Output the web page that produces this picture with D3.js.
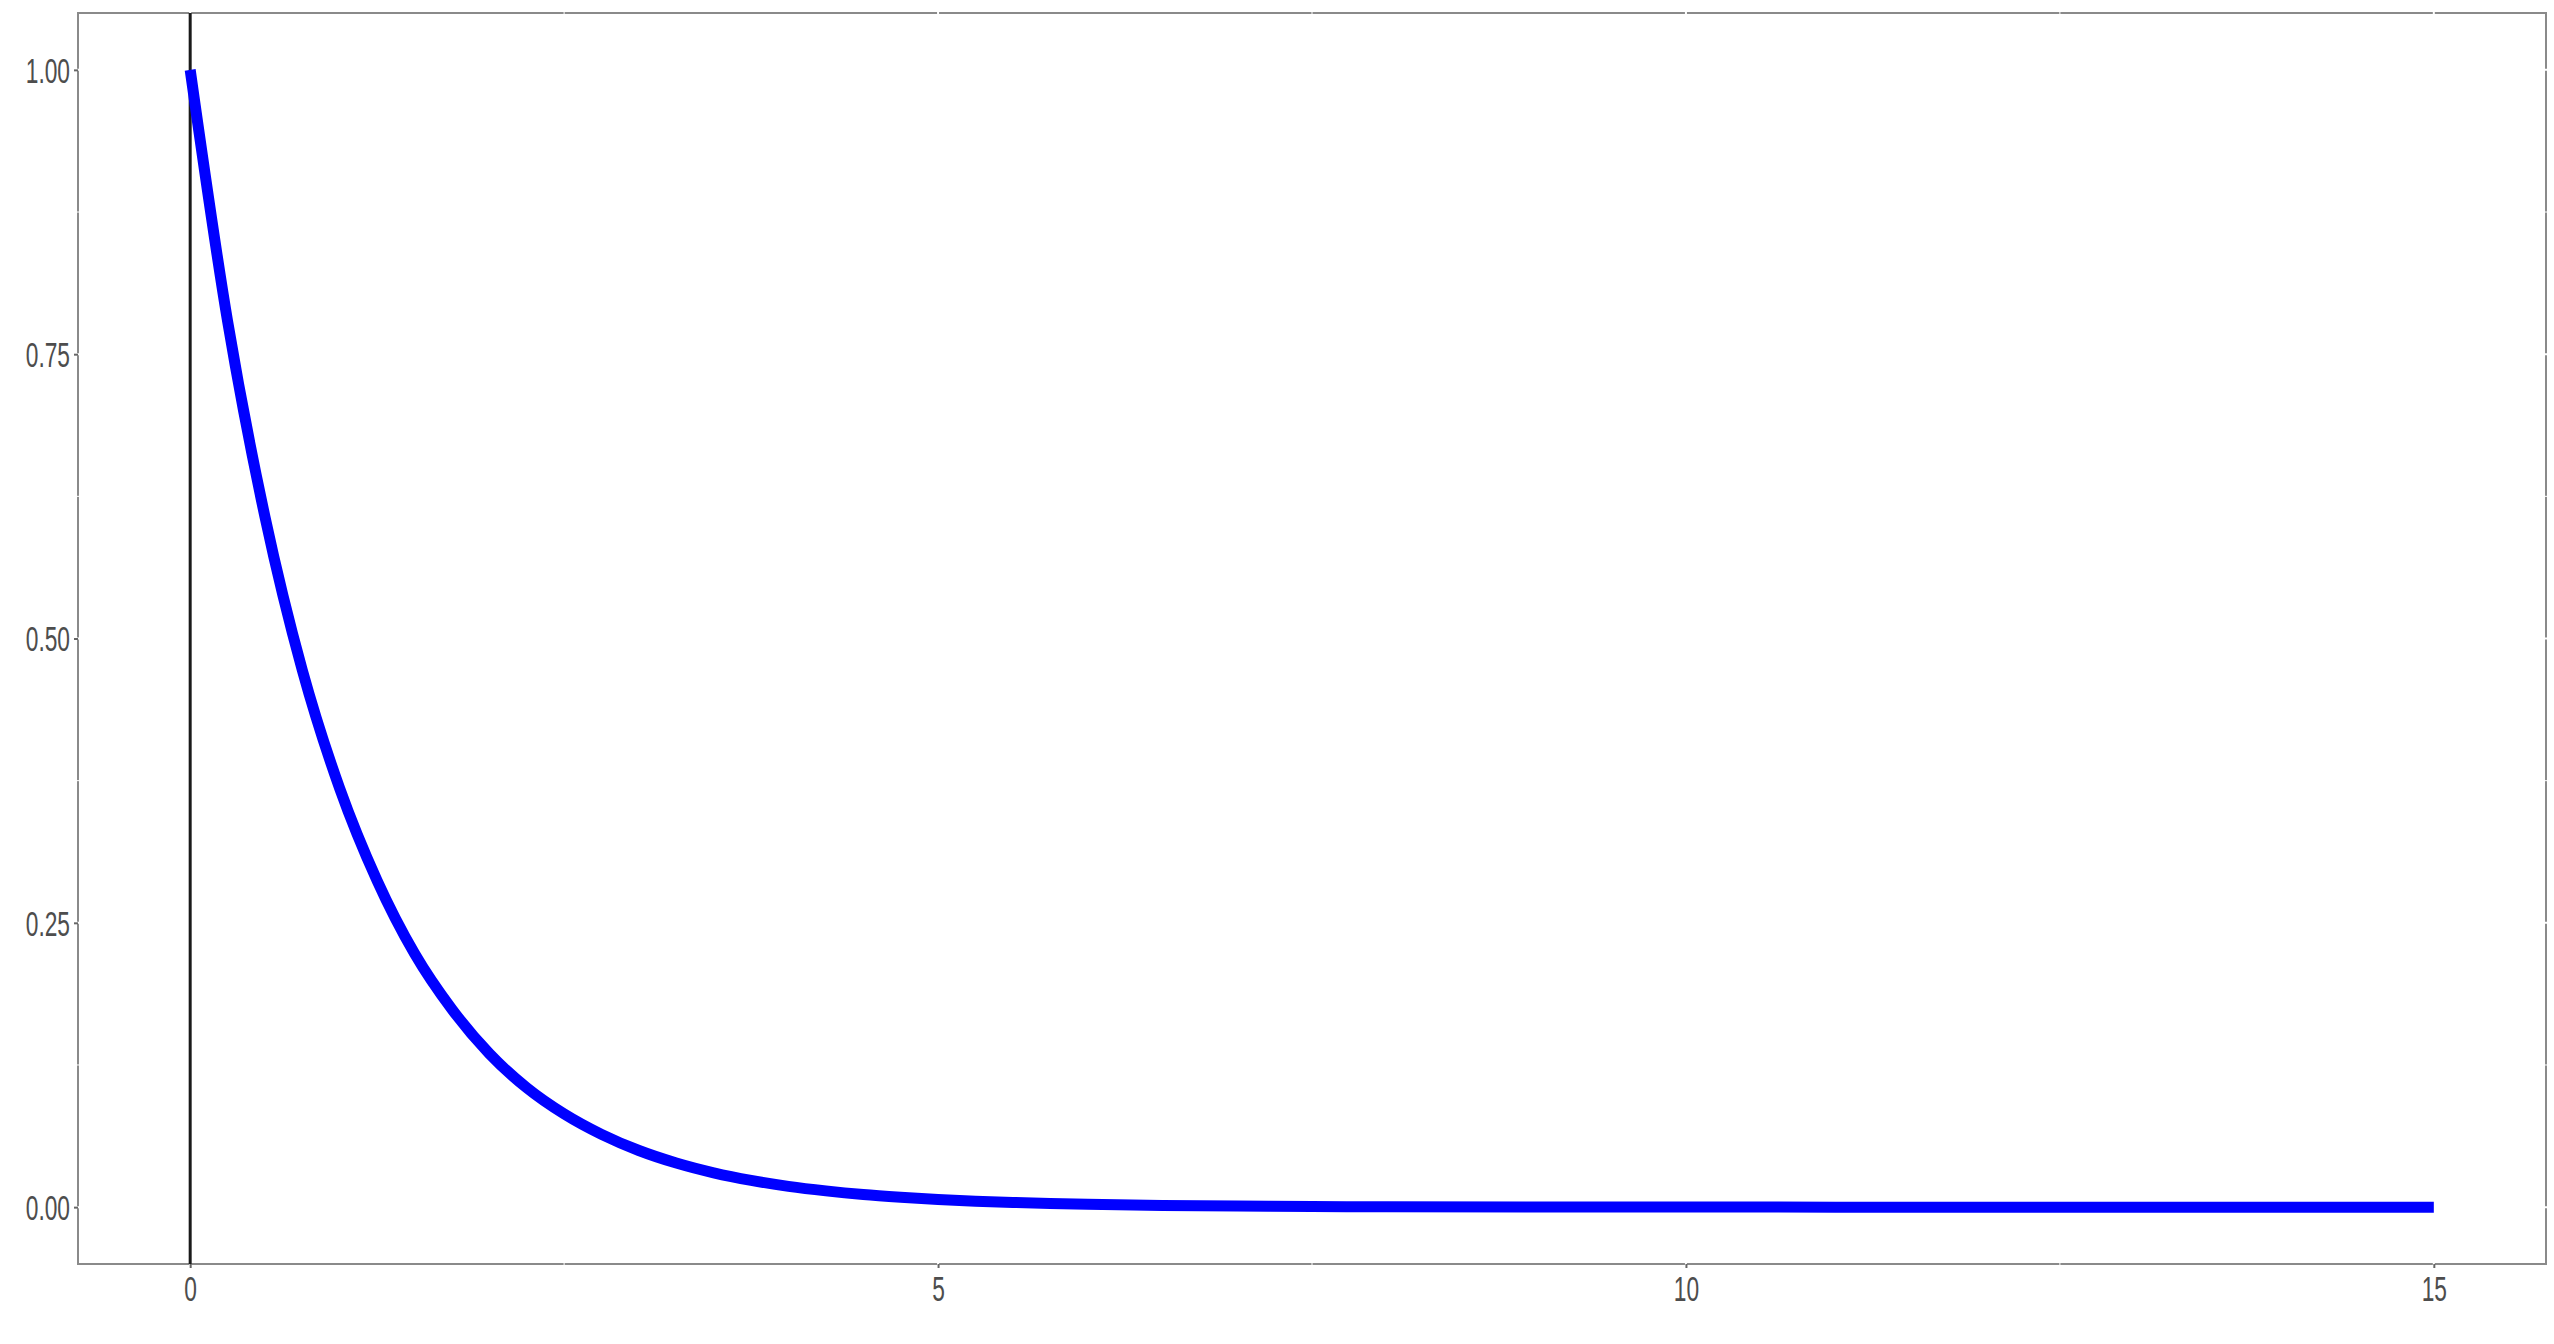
<!DOCTYPE html>
<html>
<head>
<meta charset="utf-8">
<script src="https://cdn.jsdelivr.net/npm/d3@7"></script>
<style>
  body { margin: 0; background: #ffffff; }
  .tick text { font-family: "Liberation Sans", Arial, sans-serif; fill: #4d4d4d; }
</style>
</head>
<body>
<div id="chart"></div>
<script>
var svgWidth = 2554;
var svgHeight = 1344;

var margin = {
  top: 13,
  right: 8,
  bottom: 80,
  left: 78
};

var width = svgWidth - margin.left - margin.right;
var height = svgHeight - margin.top - margin.bottom;

// values
var xValues = [0, 0.25, 0.5, 0.75, 1, 1.25, 1.5, 1.75, 2, 2.25, 2.5, 2.75, 3, 3.25, 3.5, 3.75,
  4, 4.25, 4.5, 4.75, 5, 5.25, 5.5, 5.75, 6, 6.5, 7, 7.5, 8, 9, 10, 11, 12, 13, 14, 15];
var yValues = [1.000, 0.779, 0.607, 0.472, 0.368, 0.287, 0.223, 0.174, 0.135, 0.105, 0.082, 0.064,
  0.0498, 0.0388, 0.0302, 0.0235, 0.0183, 0.0143, 0.0111, 0.0087, 0.0067, 0.0052, 0.0041, 0.0032,
  0.0025, 0.0015, 0.0009, 0.0006, 0.0003, 0.0001, 0.00005, 0, 0, 0, 0, 0];

var xTicks = [0, 5, 10, 15];
var xMinor = [2.5, 7.5, 12.5];
var yTicks = [0, 0.25, 0.5, 0.75, 1];
var yMinor = [0.125, 0.375, 0.625, 0.875];
var vlineX = 0;

var data = xValues.map(function(x, i) {
  return { x: x, y: yValues[i] };
});

var svg = d3.select("#chart")
  .append("svg")
  .attr("width", svgWidth)
  .attr("height", svgHeight);

var chartGroup = svg.append("g")
  .attr("transform", `translate(${margin.left}, ${margin.top})`);

// ggplot style 5% expansion
var xScale = d3.scaleLinear()
  .domain([-0.75, 15.75])
  .range([0, width]);

var yScale = d3.scaleLinear()
  .domain([-0.05, 1.05])
  .range([height, 0]);

// panel background with grey outline
chartGroup.append("rect")
  .attr("x", 0)
  .attr("y", 0)
  .attr("width", width)
  .attr("height", height)
  .attr("fill", "#ffffff")
  .attr("stroke", "#8a8a8a")
  .attr("stroke-width", 2);

// white grid lines (only visible where they cut the outline)
var grid = chartGroup.append("g");
grid.selectAll(".gx")
  .data(xTicks.concat(xMinor))
  .enter().append("line")
  .attr("x1", d => xScale(d))
  .attr("x2", d => xScale(d))
  .attr("y1", -1)
  .attr("y2", height + 1)
  .attr("stroke", "#ffffff")
  .attr("stroke-width", d => xMinor.indexOf(d) >= 0 ? 1 : 2);
grid.selectAll(".gy")
  .data(yTicks.concat(yMinor))
  .enter().append("line")
  .attr("x1", -1)
  .attr("x2", width + 1)
  .attr("y1", d => yScale(d))
  .attr("y2", d => yScale(d))
  .attr("stroke", "#ffffff")
  .attr("stroke-width", d => yMinor.indexOf(d) >= 0 ? 1 : 2);

// vertical line at x = 0
chartGroup.append("line")
  .attr("x1", xScale(vlineX))
  .attr("x2", xScale(vlineX))
  .attr("y1", 0)
  .attr("y2", height)
  .attr("stroke", "#1a1a1a")
  .attr("stroke-width", 3);

// the curve
var line = d3.line()
  .x(d => xScale(d.x))
  .y(d => yScale(d.y))
  .curve(d3.curveMonotoneX);

chartGroup.append("path")
  .datum(data)
  .attr("d", line)
  .attr("fill", "none")
  .attr("stroke", "#0000ff")
  .attr("stroke-width", 11)
  .attr("stroke-linecap", "butt")
  .attr("stroke-linejoin", "round");

// axes
var bottomAxis = d3.axisBottom(xScale)
  .tickValues(xTicks)
  .tickSize(4)
  .tickPadding(6)
  .tickFormat(d3.format("d"));

var leftAxis = d3.axisLeft(yScale)
  .tickValues(yTicks)
  .tickSize(4)
  .tickPadding(4)
  .tickFormat(d3.format(".2f"));

var xAxis = chartGroup.append("g")
  .attr("transform", `translate(0, ${height})`)
  .call(bottomAxis);

var yAxis = chartGroup.append("g")
  .call(leftAxis);

[xAxis, yAxis].forEach(function(ax) {
  ax.select(".domain").remove();
  ax.selectAll(".tick line")
    .attr("stroke", "#666666")
    .attr("stroke-width", 2);
  ax.selectAll(".tick text")
    .attr("font-size", 35);
});

// labels in the reference are strongly condensed
xAxis.selectAll(".tick text")
  .each(function() {
    var t = d3.select(this);
    var y = +t.attr("y");
    t.attr("y", null)
      .attr("dy", null)
      .attr("transform", `translate(0, ${y + 27}) scale(0.65, 1)`);
  });

yAxis.selectAll(".tick text")
  .each(function() {
    var t = d3.select(this);
    var x = +t.attr("x");
    t.attr("x", null)
      .attr("dy", "0.35em")
      .attr("transform", `translate(${x}, 0) scale(0.65, 1)`);
  });
</script>
</body>
</html>
